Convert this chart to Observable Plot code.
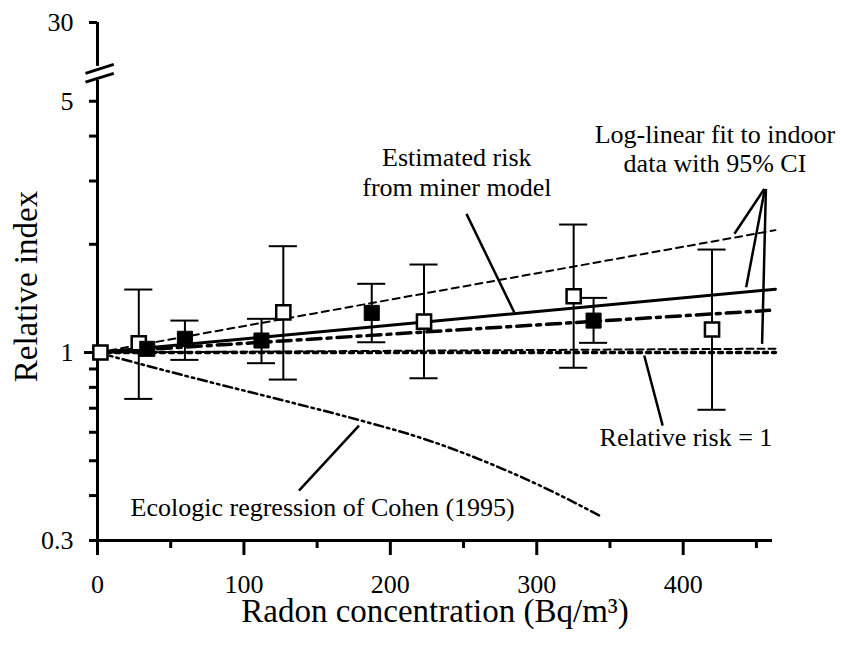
<!DOCTYPE html>
<html>
<head>
<meta charset="utf-8">
<script src="https://cdn.jsdelivr.net/npm/d3@7"></script>
<script src="https://cdn.jsdelivr.net/npm/@observablehq/plot@0.6"></script>
<style>
  html, body { margin: 0; padding: 0; background: white; }
  #chart { width: 841px; height: 650px; }
  #chart svg, #chart svg text, #chart svg tspan {
    font-family: "Liberation Serif", "Times New Roman", "DejaVu Serif", serif !important;
  }
</style>
</head>
<body>
<div id="chart"></div>
<script>
// ---------- data ----------
const xTicks = [0, 100, 200, 300, 400];
const xMinorTicks = [50, 150, 250, 350, 450];
const yTickValues = [0.3, 1, 5, 30];
const yTickLabels = ["0.3", "1", "5", "30"];
const yMinorTicks = [0.4, 0.5, 0.6, 0.7, 0.8, 0.9, 2, 3, 4];

// open squares (with 95% CI)
const openX  = [2, 28.2, 126.9, 223, 325.2, 419.7];
const openY  = [1, 1.061, 1.294, 1.219, 1.434, 1.159];
const openLo = [null, 0.743, 0.841, 0.848, 0.907, 0.693];
const openHi = [null, 1.497, 1.976, 1.757, 2.27, 1.934];

// filled squares
const filledX  = [34, 59.7, 112, 187.3, 338.8];
const filledY  = [1.024, 1.092, 1.080, 1.289, 1.227];
const filledLo = [null, 0.954, 0.934, 1.068, 1.064];
const filledHi = [null, 1.227, 1.241, 1.553, 1.419];

// lines
const minerModel   = [[0, 1], [463, 1.50]];
const logLinearFit = [[0, 1], [459, 1.31]];
const upperCI      = [[0, 1], [463, 2.19]];
const lowerCI      = [[0, 1], [463, 1.025]];
const relRiskOne   = [[0, 1], [463, 1]];
const cohenX = [0, 63.6, 131.9, 179.8, 223.1, 268.6, 314.2, 342.7];
const cohenY = [1, 0.854, 0.727, 0.647, 0.575, 0.490, 0.404, 0.352];

// annotations
const labels = [
  {x: 245.4, y: 2.733, text: "Estimated risk\nfrom miner model", anchor: "middle"},
  {x: 421.7, y: 3.173, text: "Log-linear fit to indoor\ndata with 95% CI", anchor: "middle"},
  {x: 401.9, y: 0.551, text: "Relative risk = 1", anchor: "middle"},
  {x: 22.6,  y: 0.350, text: "Ecologic regression of Cohen (1995)", anchor: "start"}
];
const arrows = [
  {x1: 252, y1: 2.43, x2: 284.6, y2: 1.294},
  {x1: 455.4, y1: 2.85, x2: 435, y2: 2.14},
  {x1: 455.8, y1: 2.85, x2: 443, y2: 1.519},
  {x1: 456.5, y1: 2.85, x2: 453.9, y2: 1.057},
  {x1: 386, y1: 0.626, x2: 373.4, y2: 0.981},
  {x1: 137.6, y1: 0.413, x2: 178.6, y2: 0.626}
];

// ---------- broken y axis (5 ... 30 compressed) ----------
const yTopPos = 8.28;            // plotted position of the "30" label
const brokenY = v => v <= 5 ? v : 5 * Math.pow(yTopPos / 5, Math.log(v / 5) / Math.log(30 / 5));
const breakLow = 5.71, breakHigh = 6.25;

const toRows = (xs, ys, lo, hi) => xs.map((x, i) => ({x, y: ys[i], lo: lo[i], hi: hi[i]}));
const openRows = toRows(openX, openY, openLo, openHi);
const filledRows = toRows(filledX, filledY, filledLo, filledHi);
const barRows = openRows.concat(filledRows).filter(d => d.lo != null);
const capHalf = 9.6;
const cohen = cohenX.map((x, i) => [x, cohenY[i]]);

const font = '"Liberation Serif", "Times New Roman", "DejaVu Serif", serif';
const yLabelMap = new Map(yTickValues.map((v, i) => [brokenY(v), yTickLabels[i]]));

const plot = Plot.plot({
  width: 841,
  height: 650,
  marginLeft: 97,
  marginRight: 69,
  marginTop: 22,
  marginBottom: 110,
  x: {domain: [0, 461], axis: null},
  y: {type: "log", domain: [0.3, yTopPos], axis: null},
  style: {background: "white", color: "black", overflow: "visible"},
  marks: [
    // axes lines
    Plot.ruleY([0.3], {x1: 0, x2: 461, strokeWidth: 3}),
    Plot.ruleX([0], {y1: 0.3, y2: breakLow, strokeWidth: 3}),
    Plot.ruleX([0], {y1: breakHigh, y2: yTopPos, strokeWidth: 3}),
    // break marks
    Plot.link([{a: -8.2, b: 11.1, c: 5.98, d: 6.33}, {a: -8.2, b: 11.1, c: 5.65, d: 5.98}],
      {x1: "a", x2: "b", y1: "c", y2: "d", strokeWidth: 3}),
    // ticks
    Plot.axisX(xTicks, {tickSize: 15, tickPadding: 19, fontSize: 26, strokeWidth: 3, tickFormat: d => String(d)}),
    Plot.axisX(xMinorTicks, {tickSize: 8, strokeWidth: 3, tickFormat: () => ""}),
    Plot.axisY(yTickValues.map(brokenY), {tickSize: 8, tickPadding: 16, fontSize: 26, strokeWidth: 3,
      tickFormat: d => yLabelMap.get(d) ?? ""}),
    Plot.axisY([1], {tickSize: 13, strokeWidth: 3, tickFormat: () => ""}),
    Plot.axisY(yMinorTicks, {tickSize: 8, strokeWidth: 3, tickFormat: () => ""}),

    // lines
    Plot.line(relRiskOne, {strokeWidth: 3.5, strokeDasharray: "4,5"}),
    Plot.line(lowerCI, {strokeWidth: 2, strokeDasharray: "7,4"}),
    Plot.line(upperCI, {strokeWidth: 2, strokeDasharray: "7,5"}),
    Plot.line(cohen, {strokeWidth: 2.5, strokeDasharray: "9,4,2.5,4,2.5,4", curve: "monotone-x"}),
    Plot.line(logLinearFit, {strokeWidth: 3.5, strokeDasharray: "14,6,4,6"}),
    Plot.line(minerModel, {strokeWidth: 3}),

    // error bars
    Plot.ruleX(barRows, {x: "x", y1: "lo", y2: "hi", strokeWidth: 2}),
    Plot.ruleY(barRows, {y: "hi", x1: d => d.x - capHalf, x2: d => d.x + capHalf, strokeWidth: 2}),
    Plot.ruleY(barRows, {y: "lo", x1: d => d.x - capHalf, x2: d => d.x + capHalf, strokeWidth: 2}),

    // squares
    Plot.dot(openRows, {x: "x", y: "y", symbol: "square", r: 8, fill: "white", stroke: "black", strokeWidth: 2.5}),
    Plot.dot(filledRows, {x: "x", y: "y", symbol: "square", r: 8.5, fill: "black", stroke: "black", strokeWidth: 1}),

    // arrows
    Plot.link(arrows, {x1: "x1", y1: "y1", x2: "x2", y2: "y2", strokeWidth: 2.5, ariaLabel: "arrows"}),

    // annotations
    Plot.text(labels.filter(d => d.anchor === "middle"), {x: "x", y: "y", text: "text", textAnchor: "middle",
      lineAnchor: "bottom", lineHeight: 1.12, fontSize: 26, fill: "black"}),
    Plot.text(labels.filter(d => d.anchor === "start"), {x: "x", y: "y", text: "text", textAnchor: "start",
      lineAnchor: "bottom", fontSize: 26, fill: "black"}),

    // axis titles
    Plot.text(["Relative index"], {frameAnchor: "left", dx: -71.5, dy: 5, rotate: -90, fontSize: 33,
      lineAnchor: "middle", textAnchor: "middle", fill: "black"}),
    Plot.text(["Radon concentration (Bq/m³)"], {frameAnchor: "bottom", dy: 81, lineAnchor: "bottom",
      textAnchor: "middle", fontSize: 33, fill: "black"})
  ]
});

const svg = d3.select(plot);
svg.attr("font-family", font);
svg.selectAll("text").attr("font-family", font);

// filled arrowheads
const defs = svg.insert("defs", ":first-child");
defs.append("marker")
  .attr("id", "ahead")
  .attr("viewBox", "0 0 16 10")
  .attr("refX", 15).attr("refY", 5)
  .attr("markerWidth", 16).attr("markerHeight", 10)
  .attr("markerUnits", "userSpaceOnUse")
  .attr("orient", "auto")
  .append("path").attr("d", "M0,0L16,5L0,10Z").attr("fill", "black");
svg.selectAll('g[aria-label="arrows"] path').attr("marker-end", "url(#ahead)");

document.getElementById("chart").appendChild(plot);
</script>
</body>
</html>
